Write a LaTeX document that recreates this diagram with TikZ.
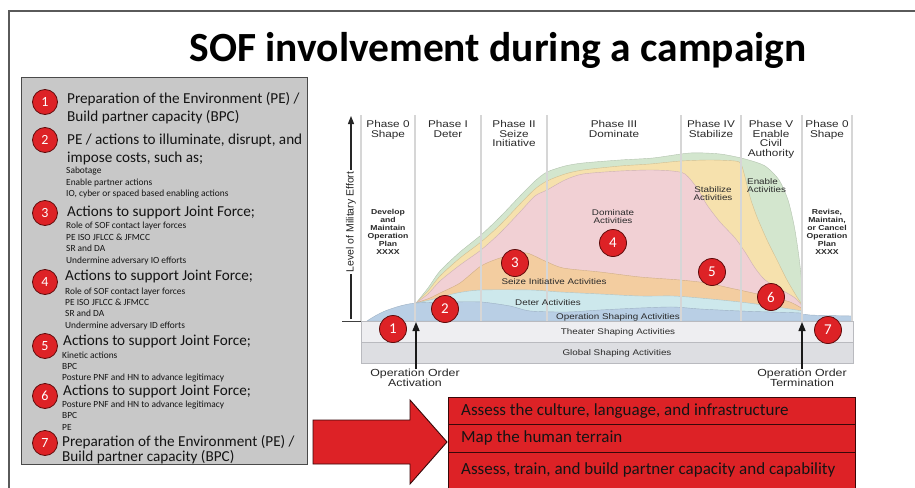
\documentclass[tikz,border=0pt]{standalone}
\usepackage{fontspec}
\setmainfont{Carlito}
\newfontfamily\chartfont[FakeStretch=1.2]{Liberation Sans}
\newfontfamily\axisfont{Liberation Sans}
\usetikzlibrary{arrows.meta}

\definecolor{framegray}{HTML}{5A5A5A}
\definecolor{panelgray}{HTML}{C8C8C8}
\definecolor{panelline}{HTML}{4A4A4A}
\definecolor{sofred}{HTML}{DD2226}
\definecolor{redrim}{HTML}{5E0B0B}
\definecolor{enablegreen}{HTML}{D3E6CE}
\definecolor{stabyellow}{HTML}{F6E1AD}
\definecolor{dompink}{HTML}{F1D0D4}
\definecolor{seizeorange}{HTML}{F3CDA0}
\definecolor{detercyan}{HTML}{CDE8EC}
\definecolor{opblue}{HTML}{B9CFE5}
\definecolor{theatergray}{HTML}{EEEEF1}
\definecolor{globalgray}{HTML}{DDDEE2}
\definecolor{bandline}{HTML}{B9BABF}
\definecolor{dividergray}{HTML}{D6D6D6}
\definecolor{labelgray}{HTML}{2A2A2A}

\begin{document}
\begin{tikzpicture}[x=1pt,y=-1pt,
  hd/.style={anchor=base west, inner sep=0pt, text=black!92, font=\fontsize{15.2}{17}\selectfont},
  sb/.style={anchor=base west, inner sep=0pt, text=black!92, font=\fontsize{9.4}{11}\selectfont},
  numdot/.style={circle, fill=sofred, draw=redrim, line width=0.8pt, text=white,
    font=\fontsize{14}{14}\selectfont, minimum size=25pt, inner sep=0pt},
  bignum/.style={numdot, minimum size=27pt, font=\fontsize{15}{15}\selectfont},
  phaselbl/.style={anchor=north, inner sep=0pt, align=center, text=labelgray,
    font=\chartfont\fontsize{9.8}{9.5}\selectfont},
  actlbl/.style={inner sep=0pt, align=center, text=labelgray,
    font=\chartfont\fontsize{8.2}{8}\selectfont},
  planlbl/.style={anchor=north, inner sep=0pt, align=center, text=labelgray,
    font=\chartfont\bfseries\fontsize{7.2}{7.9}\selectfont},
  orderlbl/.style={anchor=north, inner sep=0pt, align=center, text=black!85,
    font=\chartfont\fontsize{10.3}{10}\selectfont},
  layer/.style={line width=0.4pt},
  divider/.style={draw=dividergray, line width=1.2pt},
  orderarrow/.style={-{Triangle[width=7pt,length=9pt]}, line width=1.4pt, draw=black!90},
  redrow/.style={fill=sofred, draw=black!75!sofred, line width=0.9pt},
  rowtext/.style={anchor=base west, inner sep=0pt, text=black!92, font=\fontsize{17}{19}\selectfont}
]
\useasboundingbox (0,0) rectangle (915,487);
\clip (0,0) rectangle (915,487);
\fill[white] (0,0) rectangle (915,487);

% slide frame
\draw[framegray, line width=1.5pt] (9,490) -- (9,11) -- (917,11);

% title
\node[anchor=base, inner sep=0pt, font=\bfseries\fontsize{41.5}{45}\selectfont] (title) at (498,61)
  {SOF involvement during a campaign};

% ---------------- left panel ----------------
\draw[panelline, fill=panelgray, line width=0.9pt] (21,77) rectangle (307,464);

\node[numdot] (n1) at (45,102) {1};
\node[hd] (h1a) at (67,103) {Preparation of the Environment (PE) /};
\node[hd] (h1b) at (67,121) {Build partner capacity (BPC)};

\node[numdot] (n2) at (45,140) {2};
\node[hd] (h2a) at (67,144) {PE / actions to illuminate, disrupt, and};
\node[hd] (h2b) at (67,162) {impose costs, such as;};
\node[sb] (s2a) at (66,173) {Sabotage};
\node[sb] (s2b) at (66,185) {Enable partner actions};
\node[sb] (s2c) at (66,196.7) {IO, cyber or spaced based enabling actions};

\node[numdot] (n3) at (45,213) {3};
\node[hd] (h3) at (67,216.7) {Actions to support Joint Force;};
\node[sb] (s3a) at (66,228.7) {Role of SOF contact layer forces};
\node[sb] (s3b) at (66,240) {PE ISO JFLCC \& JFMCC};
\node[sb] (s3c) at (66,251.7) {SR and DA};
\node[sb] (s3d) at (66,263.3) {Undermine adversary IO efforts};

\node[numdot] (n4) at (45,282) {4};
\node[hd] (h4) at (65,280.7) {Actions to support Joint Force;};
\node[sb] (s4a) at (65,294) {Role of SOF contact layer forces};
\node[sb] (s4b) at (65,305.3) {PE ISO JFLCC \& JFMCC};
\node[sb] (s4c) at (65,316.7) {SR and DA};
\node[sb] (s4d) at (65,328) {Undermine adversary ID efforts};

\node[numdot] (n5) at (45,346) {5};
\node[hd] (h5) at (63,345) {Actions to support Joint Force;};
\node[sb] (s5a) at (62,358) {Kinetic actions};
\node[sb] (s5b) at (62,369) {BPC};
\node[sb] (s5c) at (62,380.7) {Posture PNF and HN to advance legitimacy};

\node[numdot] (n6) at (45,396) {6};
\node[hd] (h6) at (63,395) {Actions to support Joint Force;};
\node[sb] (s6a) at (62,407.7) {Posture PNF and HN to advance legitimacy};
\node[sb] (s6b) at (62,418.3) {BPC};
\node[sb] (s6c) at (62,430) {PE};

\node[numdot] (n7) at (45,443) {7};
\node[hd] (h7a) at (62,446.7) {Preparation of the Environment (PE) /};
\node[hd] (h7b) at (62,461.5) {Build partner capacity (BPC)};

% ---------------- campaign chart ----------------
% stacked activity areas, drawn from the outermost layer inwards
\filldraw[layer, fill=enablegreen, draw=enablegreen!85!black]
  plot[smooth, tension=0.45] coordinates {(416,303) (428,288) (440,271) (460,252) (481,235) (500,217)
    (520,196) (535,181) (547,172) (565,166) (583,163) (620,160) (653,158) (690,153) (720,154)
    (745,159) (765,166) (779,180) (788,200) (794,225) (798,250) (801,275) (803,306)}
  -- (803,321) -- (416,321) -- cycle;
\filldraw[layer, fill=stabyellow, draw=stabyellow!85!black]
  plot[smooth, tension=0.45] coordinates {(416,303) (428,291) (440,276) (460,258) (481,242) (500,225)
    (520,204) (535,189) (547,181) (565,174) (583,170) (620,166) (650,164) (681,161) (710,160)
    (735,161) (741,164) (745,177) (750,197) (757,217) (767,240) (777,260) (787,280) (797,297) (803,306)}
  -- (803,321) -- (416,321) -- cycle;
\filldraw[layer, fill=dompink, draw=dompink!85!black]
  plot[smooth, tension=0.45] coordinates {(416,303) (428,294) (440,281) (460,265) (481,250) (500,233)
    (520,212) (535,196) (547,190) (565,180) (583,174) (620,171) (650,170) (672,171) (685,174)
    (697,188) (707,205) (720,222) (735,238) (745,252) (755,268) (765,280) (780,289) (795,298) (803,307)}
  -- (803,321) -- (416,321) -- cycle;
\filldraw[layer, fill=seizeorange, draw=seizeorange!85!black]
  plot[smooth, tension=0.45] coordinates {(416,303) (430,298) (440,293) (460,283) (481,266) (500,258)
    (515,255) (527,253) (545,261) (563,268) (600,272) (640,277) (680,280) (707,283) (730,288)
    (753,293) (770,297) (790,302) (803,309)}
  -- (803,321) -- (416,321) -- cycle;
\filldraw[layer, fill=detercyan, draw=detercyan!85!black]
  plot[smooth, tension=0.45] coordinates {(416,303) (430,300) (457,293) (481,290) (530,290) (560,292)
    (600,294) (640,296) (673,296) (700,298) (740,302) (770,306) (803,311)}
  -- (803,321) -- (416,321) -- cycle;
\filldraw[layer, fill=opblue, draw=opblue!85!black]
  plot[smooth, tension=0.45] coordinates {(367,321) (375,316) (385,311) (400,306) (416,303) (450,302)
    (481,302) (510,306) (530,311) (567,312) (600,310) (640,308) (673,307) (700,309) (740,311)
    (770,312) (800,313) (810,315) (852,316)}
  -- (852,321) -- (367,321) -- cycle;

% plan column at the right end
\fill[white] (803,112) rectangle (852,314);

% shaping bands
\draw[fill=theatergray, draw=bandline, line width=0.6pt] (361,321) rectangle (853,342);
\draw[fill=globalgray, draw=bandline, line width=0.6pt] (361,342) rectangle (853,363);

% phase dividers
\foreach \xd in {361,415,481,547,681,741,802,852}
  \draw[divider] (\xd,115) -- (\xd,321);

% level-of-effort axis
\coordinate (ybot) at (351,319);
\coordinate (ytop) at (351,116);
\draw[-{Triangle[width=6pt,length=8pt]}, line width=1.1pt, draw=black!85] (ybot) -- (ytop);
\draw[line width=0.9pt, draw=black!75] (342,321) -- (361,321);
\node[rotate=90, fill=white, inner xsep=2pt, inner ysep=1pt, text=black!85,
  font=\axisfont\fontsize{10.5}{12}\selectfont] (yaxis) at (351,222) {Level of Military Effort};

% phase headings
\node[phaselbl] (p0a) at (388,120.5) {Phase 0\\Shape};
\node[phaselbl] (p1) at (448,120.5) {Phase I\\Deter};
\node[phaselbl] (p2) at (514,120.5) {Phase II\\Seize\\Initiative};
\node[phaselbl] (p3) at (614,120.5) {Phase III\\Dominate};
\node[phaselbl] (p4) at (711,120.5) {Phase IV\\Stabilize};
\node[phaselbl] (p5) at (771,120.5) {Phase V\\Enable\\Civil\\Authority};
\node[phaselbl] (p0b) at (827,120.5) {Phase 0\\Shape};

% plan notes
\node[planlbl] (plana) at (388,209.3) {Develop\\and\\Maintain\\Operation\\Plan\\XXXX};
\node[planlbl] (planb) at (827,209.3) {Revise,\\Maintain,\\or Cancel\\Operation\\Plan\\XXXX};

% activity labels
\node[actlbl, anchor=north] (domact) at (613,209) {Dominate\\Activities};
\node[actlbl, anchor=north] (stabact) at (713,186) {Stabilize\\Activities};
\node[actlbl, anchor=north west, align=left] (enact) at (747,178) {Enable\\Activities};
\node[actlbl, anchor=base] (seizeact) at (554,284) {Seize Initiative Activities};
\node[actlbl, anchor=base] (deteract) at (548,305) {Deter Activities};
\node[actlbl, anchor=base] (opsact) at (618,319.5) {Operation Shaping Activities};
\node[actlbl, anchor=base] (theatact) at (618,334.5) {Theater Shaping Activities};
\node[actlbl, anchor=base] (globact) at (617,355.5) {Global Shaping Activities};

% operation order markers
\node[orderlbl] (opact) at (415,369.2) {Operation Order\\Activation};
\node[orderlbl] (opterm) at (802,369.2) {Operation Order\\Termination};
\coordinate (actTip) at (416,322);
\coordinate (termTip) at (802,322);
\draw[orderarrow] (opact.north -| actTip) -- (actTip);
\draw[orderarrow] (opterm.north -| termTip) -- (termTip);

% numbered markers on the chart
\node[bignum] (m1) at (393,329) {1};
\node[bignum] (m2) at (445,309) {2};
\node[bignum] (m3) at (515,263) {3};
\node[bignum] (m4) at (613,243) {4};
\node[bignum] (m5) at (712,272) {5};
\node[bignum] (m6) at (771,297) {6};
\node[bignum] (m7) at (828,330) {7};

% ---------------- initial tasks ----------------
\draw[redrow] (313,420) -- (410,420) -- (410,400) -- (447,442) -- (410,484) -- (410,464) -- (313,464) -- cycle;
\draw[redrow] (448,397) rectangle (855,424);
\draw[redrow] (448,424) rectangle (855,452);
\draw[redrow] (448,452) rectangle (855,495);
\node[rowtext] (t1) at (461,415) {Assess the culture, language, and infrastructure};
\node[rowtext] (t2) at (461,442) {Map the human terrain};
\node[rowtext] (t3) at (461,474) {Assess, train, and build partner capacity and capability};
\end{tikzpicture}
\end{document}
